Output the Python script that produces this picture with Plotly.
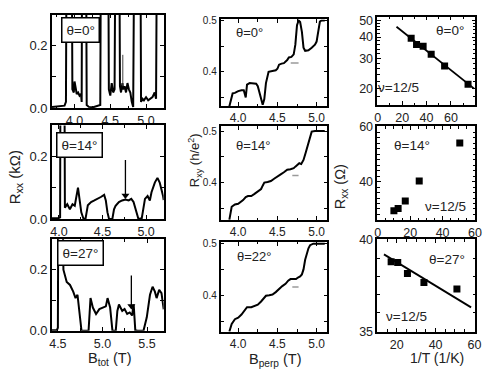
import math
import plotly.graph_objects as go

# ---------------- data ----------------
# column 1: Rxx (kOhm) vs B_tot (T)
B_r1c1 = [3.685, 3.80, 3.86, 3.88, 3.895, 3.955, 3.97, 3.99, 4.00, 4.02, 4.03, 4.05, 4.07, 4.09, 4.10, 4.11,
          4.155, 4.17, 4.20, 4.26, 4.32, 4.36, 4.375, 4.465, 4.48, 4.50, 4.52, 4.54, 4.56, 4.58, 4.62, 4.635,
          4.65, 4.67, 4.68, 4.70, 4.72, 4.74, 4.76, 4.78, 4.80, 4.82, 4.845, 4.915, 4.93, 4.95, 4.97, 5.00,
          5.03, 5.06, 5.09, 5.12, 5.14, 5.16, 5.25]
R_r1c1 = [0.004, 0.006, 0.008, 0.02, 0.9, 0.9, 0.06, 0.05, 0.085, 0.06, 0.045, 0.05, 0.04, 0.045, 0.02, 0.9,
          0.9, 0.01, 0.004, 0.003, 0.006, 0.01, 0.9, 0.9, 0.06, 0.04, 0.08, 0.05, 0.06, 0.9, 0.9, 0.07,
          0.05, 0.08, 0.06, 0.07, 0.05, 0.08, 0.06, 0.05, 0.02, 0.004, 0.9, 0.9, 0.02, 0.03, 0.025, 0.035,
          0.025, 0.03, 0.035, 0.05, 0.03, 0.9, 0.9]

B_r2c1 = [3.921, 3.99, 4.014, 4.021, 4.058, 4.069, 4.096, 4.126, 4.156, 4.182, 4.219, 4.238, 4.257, 4.283,
          4.306, 4.332, 4.369, 4.407, 4.444, 4.481, 4.519, 4.538, 4.557, 4.575, 4.613, 4.632, 4.650, 4.688,
          4.725, 4.763, 4.80, 4.83, 4.856, 4.883, 4.912, 4.95, 4.987, 5.017, 5.043, 5.062, 5.10, 5.13,
          5.156, 5.193, 5.202]
R_r2c1 = [0.002, 0.002, 0.005, 0.9, 0.9, 0.036, 0.047, 0.031, 0.047, 0.042, 0.100, 0.064, 0.021, 0.0,
          0.002, 0.044, 0.054, 0.059, 0.064, 0.070, 0.077, 0.059, 0.021, 0.0, 0.0, 0.031, 0.042, 0.054,
          0.059, 0.062, 0.059, 0.064, 0.054, 0.027, 0.0, 0.002, 0.064, 0.073, 0.059, 0.085, 0.116, 0.131,
          0.116, 0.075, 0.06]

B_r3c1 = [4.434, 4.489, 4.50, 4.51, 4.535, 4.562, 4.599, 4.636, 4.672, 4.698, 4.72, 4.746, 4.765, 4.844,
          4.866, 4.892, 4.928, 4.965, 5.001, 5.038, 5.057, 5.086, 5.112, 5.149, 5.167, 5.185, 5.222, 5.248,
          5.277, 5.306, 5.332, 5.35, 5.368, 5.394, 5.46, 5.497, 5.533, 5.562, 5.588, 5.607, 5.636, 5.662,
          5.687]
R_r3c1 = [0.002, 0.002, 0.01, 0.9, 0.9, 0.2, 0.16, 0.15, 0.128, 0.107, 0.118, 0.06, 0.0, 0.0,
          0.107, 0.076, 0.055, 0.071, 0.076, 0.08, 0.107, 0.076, 0.0, 0.0, 0.065, 0.086, 0.065, 0.071,
          0.055, 0.06, 0.05, 0.086, 0.002, 0.0, 0.0, 0.044, 0.118, 0.144, 0.128, 0.107, 0.134, 0.123,
          0.07]

# column 2: Rxy (h/e^2) vs B_perp (T)
B_r1c2 = [3.8875, 3.929, 3.958, 4.0, 4.042, 4.071, 4.096, 4.1125, 4.146, 4.196, 4.229, 4.25, 4.279, 4.30,
          4.3125, 4.333, 4.354, 4.3875, 4.4375, 4.479, 4.5, 4.521, 4.554, 4.583, 4.625, 4.646, 4.679, 4.708,
          4.729, 4.75, 4.771, 4.79, 4.8125, 4.833, 4.854, 4.896, 4.9375, 4.979, 5.0, 5.02, 5.042, 5.0625, 5.104]
R_r1c2 = [0.333, 0.358, 0.359, 0.3625, 0.364, 0.364, 0.35, 0.375, 0.378, 0.377, 0.377, 0.372, 0.356, 0.341,
          0.336, 0.347, 0.378, 0.40, 0.402, 0.403, 0.406, 0.414, 0.416, 0.417, 0.423, 0.428, 0.429, 0.434,
          0.453, 0.491, 0.5, 0.497, 0.478, 0.447, 0.441, 0.442, 0.447, 0.453, 0.459, 0.478, 0.498, 0.5, 0.5]

B_r2c2 = [3.8875, 3.917, 3.958, 4.0, 4.0625, 4.096, 4.125, 4.167, 4.208, 4.25, 4.292, 4.3125, 4.333, 4.375,
          4.417, 4.458, 4.5, 4.542, 4.583, 4.625, 4.667, 4.708, 4.729, 4.75, 4.779, 4.804, 4.833, 4.8625,
          4.896, 4.917, 4.9375, 4.979, 5.104]
R_r2c2 = [0.328, 0.353, 0.3575, 0.359, 0.366, 0.372, 0.374, 0.374, 0.378, 0.3825, 0.3875, 0.394, 0.40, 0.401,
          0.403, 0.4075, 0.411, 0.416, 0.42, 0.425, 0.426, 0.428, 0.431, 0.434, 0.4375, 0.436, 0.444, 0.459,
          0.478, 0.491, 0.499, 0.5, 0.5]

B_r3c2 = [3.8875, 3.917, 3.958, 4.0, 4.042, 4.083, 4.1125, 4.167, 4.208, 4.25, 4.292, 4.333, 4.354, 4.396,
          4.4375, 4.479, 4.521, 4.5625, 4.604, 4.6375, 4.667, 4.708, 4.7375, 4.7625, 4.79, 4.8125, 4.833,
          4.854, 4.875, 4.896, 4.917, 4.958, 5.104]
R_r3c2 = [0.3315, 0.3457, 0.355, 0.358, 0.364, 0.3735, 0.378, 0.378, 0.380, 0.383, 0.389, 0.396, 0.4, 0.401,
          0.4025, 0.407, 0.4136, 0.4185, 0.423, 0.429, 0.432, 0.432, 0.432, 0.435, 0.437, 0.441, 0.4506,
          0.469, 0.4815, 0.491, 0.497, 0.5, 0.5]

# 12/5 plateau markers (grey dashes)
mark_B = [[4.67, 4.77], [4.69, 4.77], [4.69, 4.77]]
mark_R = [0.417, 0.414, 0.417]

# arrows in column 1 (B position, tail R, tip R)
arrow_B = [4.675, 4.763, 5.324]
arrow_top = [0.17, 0.188, 0.181]
arrow_tip = [0.07, 0.075, 0.081]

# column 3: Rxx (Ohm) vs 1/T (1/K)
invT_r1 = [27.4, 31.8, 37.2, 43.8, 54.8, 74.0]
Rxx_r1 = [39.3, 36.1, 35.3, 31.7, 27.0, 21.1]
fit_x_r1 = [15.4, 79.0]
fit_y_r1 = [45.9, 19.9]

invT_r2 = [10.0, 12.6, 17.0, 25.6, 50.6]
Rxx_r2 = [29.4, 30.2, 32.9, 40.2, 54.1]

invT_r3 = [17.1, 20.5, 25.5, 34.0, 51.0]
Rxx_r3 = [38.8, 38.76, 38.15, 37.66, 37.3]
fit_x_r3 = [13.4, 58.3]
fit_y_r3 = [39.2, 36.3]

# ---------------- layout helpers ----------------
W, H = 500, 385
FONT = "Liberation Sans, Arial, Helvetica, sans-serif"
TXT = "#222222"


def px(x):
    return x / W


def py(y):
    return 1 - y / H


col_px = {1: (50, 164), 2: (222, 331), 3: (382, 482)}
row_px = {
    (1, 1): (9, 106), (2, 1): (124, 221), (3, 1): (242, 337),
    (1, 2): (14, 104), (2, 2): (125, 222), (3, 2): (245, 338),
    (1, 3): (11, 103), (2, 3): (125, 222), (3, 3): (242, 338),
}

fig = go.Figure()


def axnames(r, c):
    i = (r - 1) * 3 + c
    s = "" if i == 1 else str(i)
    return "x" + s, "y" + s, "xaxis" + s, "yaxis" + s


base_axis = dict(showline=True, linecolor="black", linewidth=1.6, mirror="allticks",
                 ticks="inside", ticklen=4, tickwidth=1.2, tickcolor="black",
                 showgrid=False, zeroline=False,
                 tickfont=dict(family=FONT, color=TXT, size=13))

layout_axes = {}


def add_axes(r, c, xcfg, ycfg):
    xn, yn, xk, yk = axnames(r, c)
    x0, x1 = col_px[c]
    y0, y1 = row_px[(r, c)]
    xa = dict(base_axis)
    xa.update(domain=[px(x0), px(x1)], anchor=yn)
    xa.update(xcfg)
    ya = dict(base_axis)
    ya.update(domain=[py(y1), py(y0)], anchor=xn)
    ya.update(ycfg)
    layout_axes[xk] = xa
    layout_axes[yk] = ya
    return xn, yn


def minor(**kw):
    d = dict(ticks="inside", ticklen=2.5, tickcolor="black", tickwidth=1.1)
    d.update(kw)
    return d


line_style = dict(color="black", width=2)

# ---- column 1 ----
col1_traces = [(B_r1c1, R_r1c1, [3.685, 5.247]), (B_r2c1, R_r2c1, [3.921, 5.202]),
               (B_r3c1, R_r3c1, [4.434, 5.687])]
col1_ticks = [[4.0, 4.5, 5.0], [4.0, 4.5, 5.0], [4.5, 5.0, 5.5]]
for r in (1, 2, 3):
    Bs, Rs, xr = col1_traces[r - 1]
    xn, yn = add_axes(r, 1,
                      dict(range=xr, tickvals=col1_ticks[r - 1],
                           ticktext=["%.1f" % v for v in col1_ticks[r - 1]],
                           tickfont=dict(family=FONT, color=TXT, size=12.5),
                           minor=minor(dtick=0.25)),
                      dict(range=[0, 0.3 if r == 3 else 0.298], tickvals=[0, 0.2],
                           ticktext=["0.0", "0.2"], minor=minor(tickvals=[0.1], ticklen=4)))
    fig.add_trace(go.Scatter(x=Bs, y=Rs, mode="lines", line=line_style, xaxis=xn, yaxis=yn,
                             showlegend=False, hoverinfo="skip"))
    # arrow shaft
    fig.add_trace(go.Scatter(x=[arrow_B[r - 1]] * 2, y=[arrow_top[r - 1], arrow_tip[r - 1]], mode="lines",
                             line=dict(color="black" if r > 1 else "#444", width=1.3 if r > 1 else 1),
                             xaxis=xn, yaxis=yn, showlegend=False, hoverinfo="skip"))
    if r > 1:
        fig.add_trace(go.Scatter(x=[arrow_B[r - 1]], y=[arrow_tip[r - 1]], mode="markers",
                                 marker=dict(symbol="triangle-down", size=7, color="black"),
                                 xaxis=xn, yaxis=yn, showlegend=False, hoverinfo="skip"))

# ---- column 2 ----
col2_y_ranges = [[0.333, 0.502], [0.3275, 0.509], [0.331, 0.503]]
col2_traces = [(B_r1c2, R_r1c2), (B_r2c2, R_r2c2), (B_r3c2, R_r3c2)]
for r in (1, 2, 3):
    Bs, Rs = col2_traces[r - 1]
    xn, yn = add_axes(r, 2,
                      dict(range=[3.775, 5.1375], tickvals=[4.0, 4.5, 5.0], ticktext=["4.0", "4.5", "5.0"],
                           tickfont=dict(family=FONT, color=TXT, size=12),
                           minor=minor(dtick=0.25)),
                      dict(range=col2_y_ranges[r - 1], tickvals=[0.4, 0.5], ticktext=["0.4", "0.5"],
                           tickfont=dict(family=FONT, color=TXT, size=10),
                           minor=minor(tickvals=[0.35, 0.45], ticklen=4)))
    fig.add_trace(go.Scatter(x=Bs, y=Rs, mode="lines", line=line_style, xaxis=xn, yaxis=yn,
                             showlegend=False, hoverinfo="skip"))
    fig.add_trace(go.Scatter(x=mark_B[r - 1], y=[mark_R[r - 1]] * 2, mode="lines",
                             line=dict(color="#9a9a9a", width=1.5), xaxis=xn, yaxis=yn,
                             showlegend=False, hoverinfo="skip"))

# ---- column 3 ----
f3 = dict(family=FONT, color=TXT, size=12.5)
xn, yn = add_axes(1, 3,
                  dict(range=[-0.3, 80], tickvals=[0, 20, 40, 60], tickfont=f3, minor=minor(dtick=10)),
                  dict(type="log", range=[math.log10(15.9), math.log10(52.7)], tickvals=[20, 30, 40, 50],
                       tickfont=f3,
                       minor=minor(tickvals=[16, 18, 22, 24, 26, 28, 32, 34, 36, 38, 42, 44, 46, 48, 52])))
fig.add_trace(go.Scatter(x=fit_x_r1, y=fit_y_r1, mode="lines", line=dict(color="black", width=1.8),
                         xaxis=xn, yaxis=yn, showlegend=False, hoverinfo="skip"))
fig.add_trace(go.Scatter(x=invT_r1, y=Rxx_r1, mode="markers",
                         marker=dict(symbol="square", size=7, color="black"),
                         xaxis=xn, yaxis=yn, showlegend=False, hoverinfo="skip"))

xn, yn = add_axes(2, 3,
                  dict(range=[-0.2, 60.2], tickvals=[0, 20, 40, 60], tickfont=f3, minor=minor(dtick=5)),
                  dict(range=[26, 60.2], tickvals=[40, 60], tickfont=f3, minor=minor(dtick=2)))
fig.add_trace(go.Scatter(x=invT_r2, y=Rxx_r2, mode="markers",
                         marker=dict(symbol="square", size=7, color="black"),
                         xaxis=xn, yaxis=yn, showlegend=False, hoverinfo="skip"))

xn, yn = add_axes(3, 3,
                  dict(range=[10, 60.5], tickvals=[20, 40, 60], tickfont=f3, minor=minor(dtick=5)),
                  dict(range=[34.97, 40.03], tickvals=[35, 40], tickfont=f3, minor=minor(dtick=1)))
fig.add_trace(go.Scatter(x=fit_x_r3, y=fit_y_r3, mode="lines", line=dict(color="black", width=1.8),
                         xaxis=xn, yaxis=yn, showlegend=False, hoverinfo="skip"))
fig.add_trace(go.Scatter(x=invT_r3, y=Rxx_r3, mode="markers",
                         marker=dict(symbol="square", size=7, color="black"),
                         xaxis=xn, yaxis=yn, showlegend=False, hoverinfo="skip"))


# ---------------- text ----------------
def label(x, y, text, size=13, box=False, angle=0):
    kw = dict(x=px(x), y=py(y), xref="paper", yref="paper", text=text, showarrow=False,
              xanchor="center", yanchor="middle", textangle=angle,
              font=dict(family=FONT, color=TXT, size=size))
    if box:
        kw.update(bgcolor="white", bordercolor="black", borderwidth=1.5, borderpad=4)
    fig.add_annotation(**kw)


label(79, 25, "θ=0°", 13.5, box=True)
label(78.5, 144, "θ=14°", 13.5, box=True)
label(79, 256, "θ=27°", 13.5, box=True)
label(252, 28, "θ=0°", 13)
label(255, 145, "θ=14°", 13)
label(256, 260, "θ=22°", 13)
label(456, 25, "θ=0°", 13.5)
label(404, 85, "ν=12/5", 13.5)
label(417, 145, "θ=14°", 13.5)
label(452, 208, "ν=12/5", 13.5)
label(453, 263, "θ=27°", 13.5)
label(412, 322, "ν=12/5", 13.5)

label(13, 178, "R<sub>xx</sub> (kΩ)", 15, angle=-90)
label(196, 160, "R<sub>xy</sub> (h/e<sup>2</sup>)", 13, angle=-90)
label(345, 188, "R<sub>xx</sub> (Ω)", 14.5, angle=-90)
label(109, 366, "B<sub>tot</sub> (T)", 14.5)
label(278, 367, "B<sub>perp</sub> (T)", 14.5)
label(443, 365, "1/T (1/K)", 14)

fig.update_layout(width=W, height=H, margin=dict(l=0, r=0, t=0, b=0),
                  paper_bgcolor="white", plot_bgcolor="white", showlegend=False,
                  font=dict(family=FONT, color=TXT), **layout_axes)

fig.write_html("out.html", config={"displayModeBar": False},
               post_script="document.body.style.margin='0px';")
